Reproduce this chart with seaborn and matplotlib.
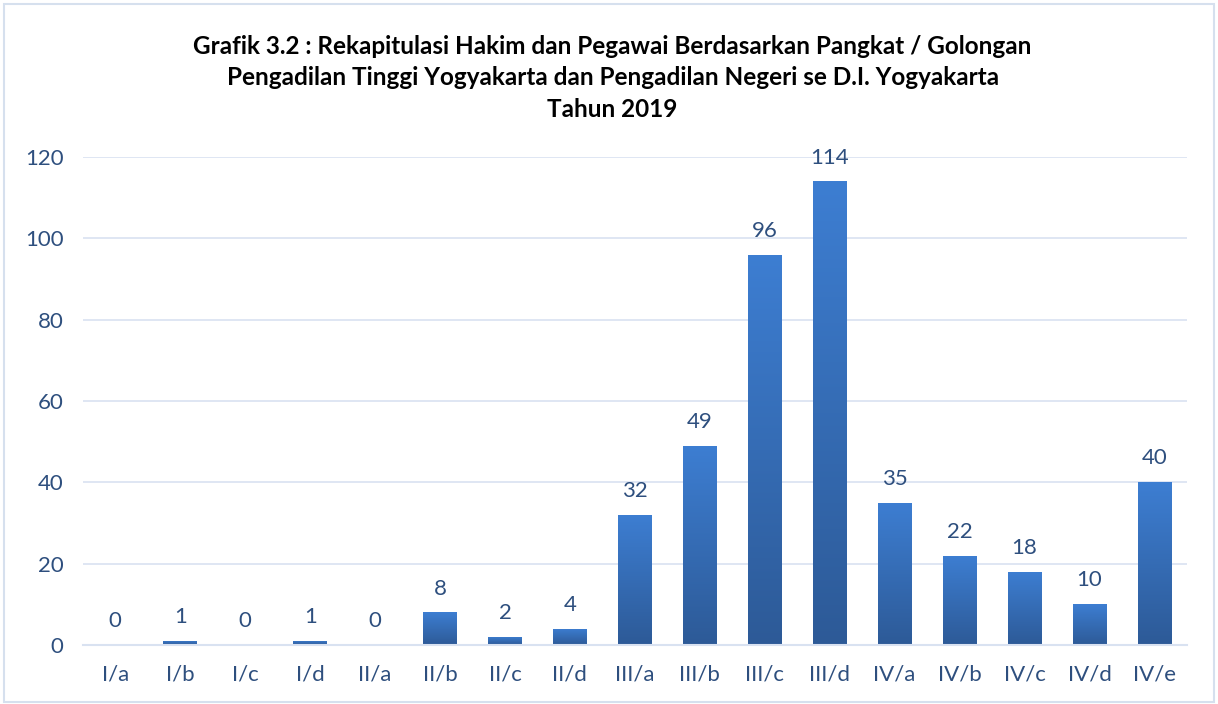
import numpy as np
import pandas as pd
import matplotlib
matplotlib.use("Agg")
import matplotlib.pyplot as plt
import seaborn as sns
from matplotlib.colors import LinearSegmentedColormap
from matplotlib.patches import Rectangle

categories = ["I/a", "I/b", "I/c", "I/d", "II/a", "II/b", "II/c", "II/d",
              "III/a", "III/b", "III/c", "III/d", "IV/a", "IV/b", "IV/c", "IV/d", "IV/e"]
values = [0, 1, 0, 1, 0, 8, 2, 4, 32, 49, 96, 114, 35, 22, 18, 10, 40]
yticks = [0, 20, 40, 60, 80, 100, 120]
title_lines = ["Grafik 3.2 : Rekapitulasi Hakim dan Pegawai Berdasarkan Pangkat / Golongan",
               "Pengadilan Tinggi Yogyakarta dan Pengadilan Negeri se D.I. Yogyakarta",
               "Tahun 2019"]

sns.set_theme(style="white")
plt.rcParams['font.family'] = ['Lato', 'DejaVu Sans']

text_color = "#2E4F7E"
grid_color = "#D9E2F1"

df = pd.DataFrame({"cat": categories, "val": values})

fig = plt.figure(figsize=(12.18, 7.04), dpi=100)
ax = fig.add_axes([0.068, 0.0838, 0.9065, 0.6932])

sns.barplot(data=df, x="cat", y="val", ax=ax, color="#3A75C4", width=0.52,
            saturation=1, edgecolor="none")

ax.set_ylim(0, 120)
ax.set_yticks(yticks)
ax.set_xlim(-0.5, len(categories) - 0.5)

# gradient fill for bars
cmap = LinearSegmentedColormap.from_list("g", ["#2D5A97", "#3D7ED2"])
grad = np.linspace(0, 1, 256).reshape(-1, 1)
for p in ax.patches:
    x0, y0 = p.get_x(), p.get_y()
    w, h = p.get_width(), p.get_height()
    if h <= 0:
        continue
    im = ax.imshow(grad, cmap=cmap, origin="lower", aspect="auto",
                   extent=[x0, x0 + w, y0, y0 + h], zorder=p.get_zorder() + 0.1)
    im.set_clip_path(p)
ax.set_xlim(-0.5, len(categories) - 0.5)
ax.set_ylim(0, 120)

for i, v in enumerate(values):
    ax.annotate(str(v), (i, v), xytext=(0, 10), textcoords="offset points",
                ha="center", va="bottom", fontsize=16, color=text_color, clip_on=False)

ax.yaxis.grid(True, color=grid_color, linewidth=1.2)
ax.set_axisbelow(True)
for s in ["top", "right", "left"]:
    ax.spines[s].set_visible(False)
ax.spines["bottom"].set_color(grid_color)
ax.spines["bottom"].set_linewidth(1.5)
ax.tick_params(axis="both", length=0, labelsize=16, labelcolor=text_color)
ax.tick_params(axis="x", pad=14)
ax.tick_params(axis="y", pad=14)
ax.set_xlabel("")
ax.set_ylabel("")

ys = [0.934, 0.890, 0.845]
for t, y in zip(title_lines, ys):
    fig.text(0.503, y, t, ha="center", va="center", fontsize=17.5,
             fontweight="bold", color="black")

fig.patches.append(Rectangle((0.003, 0.003), 0.994, 0.991, transform=fig.transFigure,
                             fill=False, edgecolor="#D6E0EE", linewidth=1.5))

fig.savefig("out.png", dpi=100)
